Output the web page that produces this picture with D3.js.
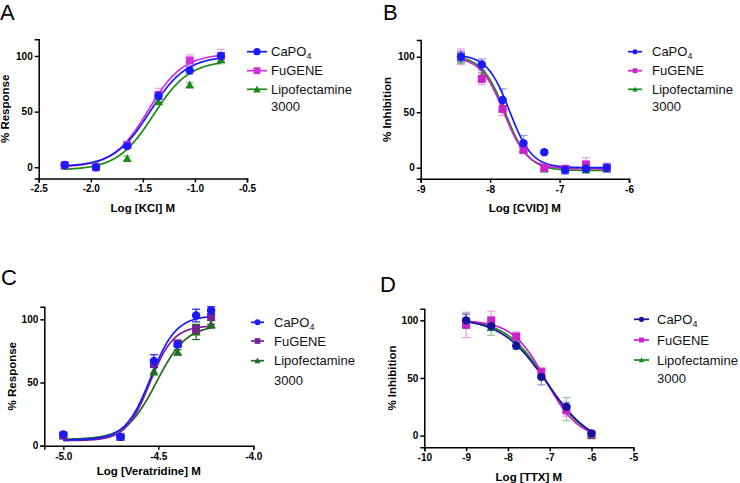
<!DOCTYPE html>
<html><head><meta charset="utf-8">
<script src="https://cdn.jsdelivr.net/npm/d3@7"></script>
<style>body{margin:0;background:#fff;font-family:Arial,"Liberation Sans",sans-serif}</style>
</head><body><svg id="c" width="740" height="483"></svg>
<script>
// ---------- DATA ----------
const seriesNames = ["CaPO4", "FuGENE", "Lipofectamine 3000"];

// Panel A: KCl
const kclX = [-2.25, -1.95, -1.65, -1.35, -1.05, -0.75];
const kclCaPO4 = [2, 0, 19, 64, 87, 100];
const kclCaPO4Err = [1, 1, 2, 3, 3, 3];
const kclFuGENE = [2, 0, 20, 65, 96, 100];
const kclFuGENEErr = [1, 1, 3, 6, 5, 6];
const kclLipo = [1, 1, 8, 59, 74, 97];
const kclLipoErr = [2, 3, 2, 2, 2, 4];
const kclFits = [[0.5, 100, -1.43, 2.5], [0, 102, -1.45, 2.6], [-2.5, 96, -1.40, 2.5]];

// Panel B: CVID
const cvidX = [-8.42, -8.12, -7.82, -7.52, -7.22, -6.92, -6.62, -6.32];
const cvidCaPO4 = [100, 93, 61, 22, 14, -2, -1, 0];
const cvidCaPO4Err = [5, 5, 10, 7, 2, 4, 3, 4];
const cvidFuGENE = [100, 80, 53, 16, 0, -1, 3, 0];
const cvidFuGENEErr = [7, 5, 6, 3, 3, 2, 6, 3];
const cvidLipo = [99, 82, 55, 17, -1, -2, -2, -1];
const cvidLipoErr = [5, 4, 5, 3, 2, 2, 2, 2];
const cvidFits = [[0, 102, -7.72, -2.7], [-1, 100, -7.80, -2.6], [-2.5, 101, -7.78, -2.6]];

// Panel C: Veratridine
const veraX = [-5.0, -4.699, -4.523, -4.398, -4.301, -4.222];
const veraCaPO4 = [9, 7, 67, 80, 103, 107];
const veraCaPO4Err = [1, 1, 5, 2, 5, 3];
const veraFuGENE = [8, 7, 65, 81, 92, 102];
const veraFuGENEErr = [1, 1, 3, 2, 3, 6];
const veraLipo = [8, 7, 59, 74, 90, 96];
const veraLipoErr = [1, 1, 3, 2, 6, 3];
const veraFits = [[4.5, 103, -4.54, 6.5], [4, 95, -4.545, 7], [5, 95.5, -4.51, 5.5]];

// Panel D: TTX
const ttxX = [-9, -8.4, -7.8, -7.2, -6.6, -6.0];
const ttxCaPO4 = [100, 95, 78, 51, 25, 2];
const ttxCaPO4Err = [5, 4, 3, 7, 4, 2];
const ttxFuGENE = [96, 100, 86, 55, 22, 1];
const ttxFuGENEErr = [11, 8, 4, 4, 5, 2];
const ttxLipo = [100, 94, 80, 53, 23, 0];
const ttxLipoErr = [6, 7, 3, 4, 10, 2];
const ttxFits = [[-10, 102, -7.07, -0.8], [-3, 100, -7.1, -1.1], [-7, 101, -7.08, -0.9]];

// tick labels
const kclTicks = [-2.5, -2.0, -1.5, -1.0, -0.5];
const cvidTicks = [-9, -8, -7, -6];
const veraTicks = [-5.0, -4.5, -4.0];
const ttxTicks = [-10, -9, -8, -7, -6, -5];
const yTicks = [0, 50, 100];

// ---------- DRAW ----------
const svg = d3.select("#c");
const hy = s => s.replace(/\u2212/g, "-");

function panel(cfg) {
  const g = svg.append("g");
  const x = d3.scaleLinear().domain(cfg.xDomain).range(cfg.xRange);
  const y = d3.scaleLinear().domain(cfg.yDomain).range(cfg.yRange);

  const fit = (p, v) => p[0] + (p[1] - p[0]) / (1 + Math.pow(10, (p[2] - v) * p[3]));
  const line = d3.line().x(d => x(d[0])).y(d => y(d[1])).curve(d3.curveLinear);

  const order = [2, 1, 0];
  order.forEach(i => {
    const s = cfg.series[i];
    const xs = cfg.xs;
    const lo = d3.min(xs), hi = d3.max(xs);
    const pts = d3.range(0, 201).map(k => { const v = lo + (hi - lo) * k / 200; return [v, fit(cfg.fits[i], v)]; });
    g.append("path").attr("d", line(pts)).attr("fill", "none")
      .attr("stroke", s.color).attr("stroke-width", 1.7);
  });
  order.forEach(i => {
    const s = cfg.series[i];
    cfg.xs.forEach((xv, j) => {
      const e = s.err[j], v = s.vals[j];
      const eg = g.append("g").attr("stroke", s.color).attr("stroke-width", 1.2)
        .attr("opacity", cfg.errOpacity);
      eg.append("line").attr("x1", x(xv)).attr("x2", x(xv)).attr("y1", y(v - e)).attr("y2", y(v + e));
      [v - e, v + e].forEach(t => eg.append("line").attr("x1", x(xv) - 4).attr("x2", x(xv) + 4)
        .attr("y1", y(t)).attr("y2", y(t)));
    });
  });
  order.forEach(i => {
    const s = cfg.series[i];
    cfg.xs.forEach((xv, j) => {
      drawMarker(g, s.shape, x(xv), y(s.vals[j]), 4.2, s.color);
    });
  });

  const xa = g.append("g").attr("transform", `translate(0,${cfg.yRange[0]})`)
    .call(d3.axisBottom(x).tickValues(cfg.xTicks).tickFormat(v => hy(d3.format(cfg.xFmt)(v))).tickSizeOuter(0).tickSize(4).tickPadding(3));
  const ya = g.append("g").attr("transform", `translate(${cfg.xRange[0]},0)`)
    .call(d3.axisLeft(y).tickValues(yTicks).tickFormat(d3.format("d")).tickSizeOuter(0).tickSize(4).tickPadding(2));
  [xa, ya].forEach(a => {
    a.select(".domain").attr("stroke", "#000").attr("stroke-width", 1.5);
    a.selectAll(".tick line").attr("stroke", "#000").attr("stroke-width", 1.5);
    a.selectAll(".tick text").attr("fill", "#000").style("font-size", "10px")
      .style("font-weight", "bold").style("font-family", "Arial, 'Liberation Sans', sans-serif");
  });

  g.append("text").attr("x", (cfg.xRange[0] + cfg.xRange[1]) / 2).attr("y", cfg.xTitleY)
    .attr("text-anchor", "middle").style("font-size", "11.5px").style("font-weight", "bold").text(cfg.xTitle);
  g.append("text").attr("transform", `translate(${cfg.yTitleX},${(cfg.yRange[0] + cfg.yRange[1]) / 2}) rotate(-90)`)
    .attr("text-anchor", "middle").style("font-size", "11.5px").style("font-weight", "bold").text(cfg.yTitle);
  g.append("text").attr("x", cfg.letterPos[0]).attr("y", cfg.letterPos[1])
    .style("font-size", "22px").text(cfg.letter);

  const L = cfg.legend;
  cfg.series.forEach((s, i) => {
    const cy = L.rows[i];
    g.append("line").attr("x1", L.x0).attr("x2", L.x1).attr("y1", cy).attr("y2", cy)
      .attr("stroke", s.color).attr("stroke-width", 1.7);
    drawMarker(g, s.shape, (L.x0 + L.x1) / 2, cy, L.ms, s.color);
    const t = g.append("text").attr("x", L.tx).attr("y", cy + 4.6).style("font-size", "13px").attr("fill", "#111");
    if (i === 0) {
      t.append("tspan").text("CaPO");
      t.append("tspan").text("4").style("font-size", "9px").attr("dy", 3);
    } else if (i === 1) {
      t.text(seriesNames[1]);
    } else {
      t.text("Lipofectamine");
      g.append("text").attr("x", L.tx).attr("y", L.rows[3] + 4.6).style("font-size", "13px").attr("fill", "#111").text("3000");
    }
  });
}

function drawMarker(g, shape, cx, cy, r, color) {
  if (shape === "circle") {
    g.append("circle").attr("cx", cx).attr("cy", cy).attr("r", r).attr("fill", color);
  } else if (shape === "square") {
    g.append("rect").attr("x", cx - r * 0.95).attr("y", cy - r * 0.95).attr("width", r * 1.9).attr("height", r * 1.9).attr("fill", color);
  } else {
    const h = r * 1.9;
    g.append("path").attr("d", `M${cx},${cy - h * 0.55}L${cx + h * 0.55},${cy + h * 0.45}L${cx - h * 0.55},${cy + h * 0.45}Z`).attr("fill", color);
  }
}

const mk = (c, vals, errs, shapes) => c.map((col, i) => ({ color: col, vals: vals[i], err: errs[i], shape: shapes[i] }));
const shapes = ["circle", "square", "triangle"];

panel({
  xDomain: [-2.5, -0.5], xRange: [38.7, 247], yDomain: [-10, 115], yRange: [178.4, 39.3],
  xs: kclX, xTicks: kclTicks, xFmt: ".1f", fits: kclFits, errOpacity: 0.45,
  series: mk(["#1a1aff", "#cc33dd", "#1a8a1a"], [kclCaPO4, kclFuGENE, kclLipo], [kclCaPO4Err, kclFuGENEErr, kclLipoErr], shapes),
  xTitle: "Log [KCl] M", xTitleY: 212, yTitle: "% Response", yTitleX: 9, letter: "A", letterPos: [0, 20],
  legend: { x0: 247, x1: 267, tx: 271, rows: [51.7, 70.7, 89.3, 106], ms: 3.6 }
});
panel({
  xDomain: [-9, -6], xRange: [420.7, 629], yDomain: [-10, 115], yRange: [178.8, 40.1],
  xs: cvidX, xTicks: cvidTicks, xFmt: "d", fits: cvidFits, errOpacity: 0.45,
  series: mk(["#1a1aff", "#cc22cc", "#1a8a1a"], [cvidCaPO4, cvidFuGENE, cvidLipo], [cvidCaPO4Err, cvidFuGENEErr, cvidLipoErr], shapes),
  xTitle: "Log [CVID] M", xTitleY: 212, yTitle: "% Inhibition", yTitleX: 391, letter: "B", letterPos: [383, 20],
  legend: { x0: 628, x1: 642, tx: 652, rows: [51.7, 70.7, 89.3, 106], ms: 2.5 }
});
panel({
  xDomain: [-5.1, -4.0], xRange: [44.3, 253.3], yDomain: [0, 110], yRange: [445.7, 306.7],
  xs: veraX, xTicks: veraTicks, xFmt: ".1f", fits: veraFits, errOpacity: 1,
  series: mk(["#1a1aff", "#7a2096", "#1f6b1f"], [veraCaPO4, veraFuGENE, veraLipo], [veraCaPO4Err, veraFuGENEErr, veraLipoErr], shapes),
  xTitle: "Log [Veratridine] M", xTitleY: 475, yTitle: "% Response", yTitleX: 16, letter: "C", letterPos: [1, 285],
  legend: { x0: 251, x1: 264, tx: 274, rows: [322.3, 341, 360.7, 380], ms: 3 }
});
panel({
  xDomain: [-10, -5], xRange: [424.3, 633.3], yDomain: [-10, 110], yRange: [447.2, 308.8],
  xs: ttxX, xTicks: ttxTicks, xFmt: "d", fits: ttxFits, errOpacity: 0.45,
  series: mk(["#12129e", "#cc22cc", "#1a8a1a"], [ttxCaPO4, ttxFuGENE, ttxLipo], [ttxCaPO4Err, ttxFuGENEErr, ttxLipoErr], shapes),
  xTitle: "Log [TTX] M", xTitleY: 481, yTitle: "% Inhibition", yTitleX: 396, letter: "D", letterPos: [380, 292],
  legend: { x0: 634, x1: 649, tx: 657, rows: [319.3, 340, 360, 378], ms: 2.6 }
});
</script></body></html>
